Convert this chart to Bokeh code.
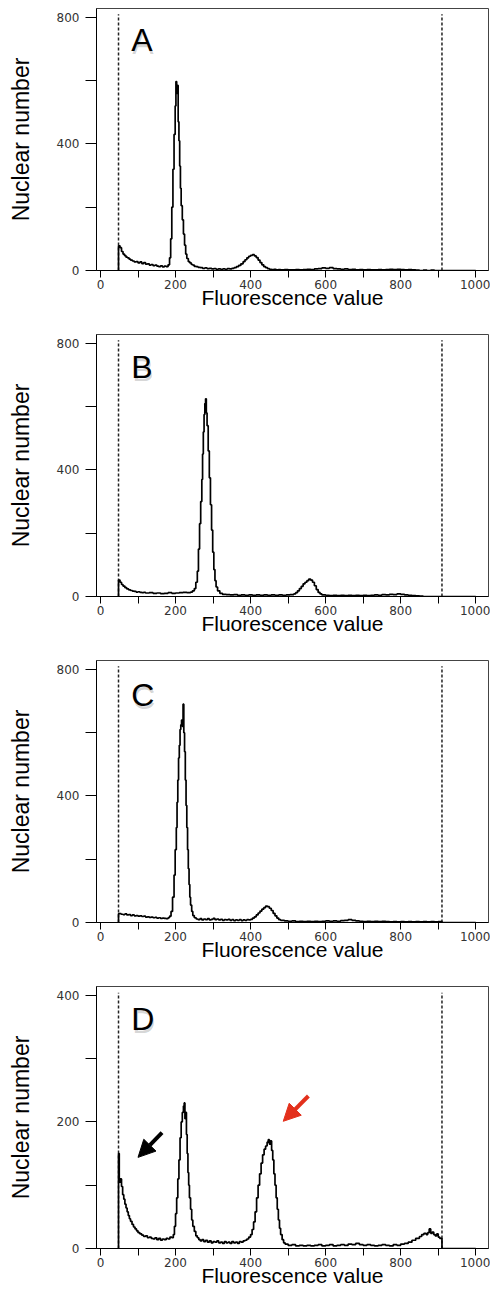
from bokeh.plotting import figure
from bokeh.layouts import column
from bokeh.models import Range1d, FixedTicker, Arrow, NormalHead
from bokeh.core.properties import value
from bokeh.embed import file_html
from bokeh.resources import INLINE

# ---------------- data ----------------
gates = [48, 910]
x_ticks = [0, 100, 200, 300, 400, 500, 600, 700, 800, 900, 1000]
x_tick_labels = ["0", "", "200", "", "400", "", "600", "", "800", "", "1000"]
y_ticks_big = [0, 200, 400, 600, 800]
y_tick_labels_big = ["0", "", "400", "", "800"]
y_ticks_small = [0, 100, 200, 300, 400]
y_tick_labels_small = ["0", "", "200", "", "400"]
panel_letters = ["A", "B", "C", "D"]

A_edges = [48, 52, 56, 60, 64, 68, 72, 76, 80, 85, 90, 95, 100, 105, 110, 115, 120, 125, 130, 135,
           140, 145, 150, 155, 160, 165, 170, 175, 180, 184, 187, 190, 193, 196, 199, 201, 203, 205,
           207, 209, 211, 213, 215, 218, 221, 224, 227, 230, 234, 238, 242, 246, 250, 255, 260, 266,
           272, 278, 284, 290, 296, 302, 308, 314, 320, 326, 332, 338, 344, 350, 356, 362, 368, 374,
           380, 385, 390, 395, 400, 405, 410, 415, 420, 425, 430, 435, 440, 445, 450, 456, 462, 468,
           474, 480, 490, 500, 510, 520, 530, 540, 550, 560, 570, 580, 590, 600, 610, 620, 630, 640,
           650, 660, 670, 680, 690, 700, 710, 720, 730, 740, 750, 760, 770, 780, 790, 800, 810, 820,
           830, 840, 850, 860, 870, 880, 890]
A_counts = [78, 72, 60, 52, 47, 42, 40, 36, 33, 30, 27, 28, 24, 27, 22, 25, 20, 21, 17, 19,
            15, 17, 14, 12, 15, 11, 14, 12, 18, 40, 100, 200, 320, 430, 520, 597, 560, 585,
            470, 410, 330, 260, 205, 160, 115, 80, 52, 38, 28, 24, 19, 17, 13, 12, 10, 9,
            7, 8, 6, 7, 5, 6, 4, 5, 4, 5, 4, 6, 5, 7, 9, 12, 16, 21,
            28, 34, 40, 45, 48, 50, 46, 41, 33, 25, 18, 12, 9, 6, 4, 3, 4, 2,
            3, 2, 3, 2, 2, 3, 2, 3, 4, 3, 5, 6, 8, 7, 9, 6, 5, 4,
            5, 3, 4, 2, 3, 2, 3, 2, 2, 3, 2, 3, 4, 3, 4, 3, 2, 3,
            2, 1, 0, 1, 0, 1, 0]

B_edges = [48, 52, 56, 60, 65, 70, 75, 80, 85, 90, 95, 100, 105, 110, 115, 120, 130, 140, 150, 160,
           170, 180, 190, 200, 210, 220, 230, 240, 245, 250, 254, 258, 261, 264, 267, 270, 272, 274,
           276, 278, 280, 282, 284, 287, 290, 293, 296, 299, 302, 305, 308, 312, 318, 325, 335, 345,
           355, 365, 375, 385, 395, 405, 415, 425, 435, 445, 455, 465, 475, 485, 495, 505, 515, 520,
           525, 530, 535, 540, 545, 550, 555, 560, 565, 570, 575, 580, 585, 590, 600, 610, 620, 630,
           640, 650, 660, 670, 680, 690, 700, 710, 720, 730, 740, 750, 760, 770, 780, 790, 800, 810,
           820, 830, 840, 850, 860]
B_counts = [52, 45, 38, 33, 28, 24, 21, 19, 17, 16, 14, 15, 13, 12, 13, 11, 12, 10, 11, 9,
            10, 12, 10, 11, 12, 13, 12, 14, 18, 25, 45, 80, 150, 230, 300, 370, 450, 520,
            575, 610, 625, 580, 540, 460, 375, 290, 210, 140, 85, 50, 30, 18, 10, 7, 6, 5,
            6, 4, 5, 4, 5, 4, 5, 4, 5, 4, 5, 4, 5, 4, 5, 6, 8, 12,
            18, 25, 32, 40, 45, 50, 55, 52, 45, 34, 22, 13, 8, 5, 4, 3, 4, 3,
            4, 3, 4, 3, 4, 3, 4, 3, 4, 5, 4, 6, 5, 7, 6, 8, 7, 5,
            4, 3, 2, 1, 0]

C_edges = [48, 55, 60, 65, 70, 75, 80, 85, 90, 95, 100, 105, 110, 115, 120, 125, 130, 135, 140, 145,
           150, 155, 160, 165, 170, 175, 180, 184, 188, 192, 196, 199, 202, 204, 206, 208, 210, 212,
           214, 216, 218, 220, 222, 224, 226, 228, 230, 232, 234, 236, 238, 240, 243, 246, 250, 255,
           260, 265, 270, 275, 280, 285, 290, 295, 300, 305, 310, 315, 320, 325, 330, 335, 340, 345,
           350, 355, 360, 365, 370, 375, 380, 385, 390, 395, 400, 405, 410, 415, 420, 425, 430, 435,
           440, 445, 450, 455, 460, 465, 470, 475, 480, 490, 500, 510, 520, 530, 540, 550, 560, 570,
           580, 590, 600, 610, 620, 630, 640, 650, 660, 670, 680, 690, 700, 710, 720, 730, 740, 750,
           760, 770, 780, 790, 800, 810, 820, 830, 840, 850, 860, 870, 880, 890, 900]
C_counts = [28, 26, 25, 27, 24, 25, 22, 24, 21, 22, 20, 21, 19, 20, 17, 18, 16, 17, 15, 16,
            14, 15, 13, 14, 13, 12, 15, 20, 35, 80, 150, 230, 300, 380, 450, 520, 560, 610,
            625, 640, 620, 690, 600, 540, 450, 370, 300, 230, 170, 120, 80, 55, 35, 22, 15, 11,
            9, 12, 8, 11, 9, 12, 8, 10, 13, 9, 11, 8, 10, 7, 9, 8, 10, 7,
            9, 6, 8, 7, 9, 6, 8, 7, 9, 8, 10, 14, 18, 24, 30, 36, 42, 47,
            52, 50, 45, 38, 29, 21, 14, 9, 7, 5, 4, 5, 3, 4, 3, 4, 3, 4,
            3, 4, 5, 4, 5, 4, 6, 7, 9, 7, 5, 4, 3, 4, 3, 4, 3, 4,
            3, 2, 3, 2, 3, 2, 3, 2, 3, 2, 3, 2, 3, 2, 3]

D_edges = [48, 50, 53, 56, 59, 62, 65, 68, 71, 74, 77, 80, 84, 88, 92, 96, 100, 105, 110, 115,
           120, 125, 130, 135, 140, 145, 150, 155, 160, 165, 170, 175, 180, 185, 190, 194, 197, 200,
           203, 206, 209, 212, 215, 218, 221, 223, 225, 227, 229, 231, 233, 235, 237, 240, 243, 246,
           250, 254, 258, 262, 266, 270, 275, 280, 285, 290, 295, 300, 305, 310, 315, 320, 325, 330,
           335, 340, 345, 350, 355, 360, 365, 370, 375, 380, 385, 390, 395, 400, 404, 408, 412, 416,
           420, 424, 428, 432, 436, 440, 444, 447, 450, 453, 456, 459, 462, 465, 468, 471, 474, 477,
           480, 484, 488, 492, 500, 510, 520, 530, 540, 550, 560, 570, 580, 590, 600, 610, 620, 630,
           640, 650, 660, 670, 680, 690, 700, 710, 720, 730, 740, 750, 760, 770, 780, 790, 800, 810,
           820, 830, 840, 850, 856, 862, 868, 872, 876, 880, 884, 888, 892, 896, 900, 904]
D_counts = [150, 105, 110, 98, 85, 78, 70, 64, 58, 52, 47, 43, 38, 34, 31, 28, 25, 23, 21, 19,
            20, 17, 18, 16, 15, 17, 14, 16, 13, 15, 14, 16, 15, 18, 17, 22, 35, 55,
            80, 110, 140, 175, 200, 215, 225, 230, 205, 215, 180, 150, 120, 100, 80, 62, 45, 35,
            27, 20, 17, 14, 12, 14, 11, 13, 10, 12, 9, 11, 10, 12, 9, 10, 8, 11,
            9, 10, 8, 11, 9, 10, 8, 11, 10, 12, 13, 15, 18, 22, 30, 42, 58, 80,
            100, 118, 135, 148, 157, 162, 168, 172, 165, 170, 155, 140, 118, 100, 80, 62, 45, 32,
            22, 14, 9, 7, 5, 6, 4, 5, 4, 5, 4, 5, 6, 4, 5, 6, 4, 5,
            6, 5, 7, 6, 8, 6, 5, 6, 5, 4, 5, 6, 5, 4, 6, 5, 7, 8,
            10, 13, 16, 19, 22, 24, 22, 25, 31, 24, 26, 22, 20, 23, 18, 16]

# arrows in panel D: (x_start, y_start, x_end, y_end)
black_arrow = [164, 183, 100, 144]
red_arrow = [554, 241, 487, 201]

# ---------------- drawing ----------------
X_START, X_END = -10.67, 1034.0
LABEL_FONT = "Liberation Sans"
TICK_FONT = "DejaVu Sans"

panels = [
    dict(letter="A", edges=A_edges, counts=A_counts, ymax=828, gate_top=810, letter_y=672,
         yt=y_ticks_big, ytl=y_tick_labels_big, h=326, bb=56),
    dict(letter="B", edges=B_edges, counts=B_counts, ymax=828, gate_top=810, letter_y=668,
         yt=y_ticks_big, ytl=y_tick_labels_big, h=326, bb=56),
    dict(letter="C", edges=C_edges, counts=C_counts, ymax=828, gate_top=810, letter_y=662,
         yt=y_ticks_big, ytl=y_tick_labels_big, h=326, bb=56),
    dict(letter="D", edges=D_edges, counts=D_counts, ymax=414, gate_top=404, letter_y=334,
         yt=y_ticks_small, ytl=y_tick_labels_small, h=312, bb=42),
]

figs = []
for pan in panels:
    p = figure(width=490, height=pan["h"], x_range=Range1d(X_START, X_END),
               y_range=Range1d(0, pan["ymax"]), output_backend="svg", toolbar_location=None,
               min_border_left=96, min_border_right=2, min_border_top=8,
               min_border_bottom=pan["bb"])
    p.grid.visible = False
    p.outline_line_color = "#444444"
    p.outline_line_width = 1
    p.background_fill_color = "white"
    p.border_fill_color = "white"

    # axes
    p.xaxis.ticker = FixedTicker(ticks=x_ticks)
    p.xaxis.major_label_overrides = {t: l for t, l in zip(x_ticks, x_tick_labels)}
    p.yaxis.ticker = FixedTicker(ticks=pan["yt"])
    p.yaxis.major_label_overrides = {t: l for t, l in zip(pan["yt"], pan["ytl"])}
    for ax in (p.xaxis[0], p.yaxis[0]):
        ax.axis_line_color = "black"
        ax.axis_line_width = 1
        ax.major_tick_line_color = "black"
        ax.major_tick_line_width = 1
        ax.major_tick_in = 0
        ax.minor_tick_line_color = None
        ax.major_label_text_font = TICK_FONT
        ax.major_label_text_font_size = "12px"
        ax.major_label_text_color = "#333333"
        ax.axis_label_text_font = LABEL_FONT
        ax.axis_label_text_font_style = "normal"
        ax.axis_label_text_color = "black"
    p.xaxis.major_tick_out = 7
    p.xaxis.major_label_standoff = 2
    p.xaxis.axis_label = "Fluorescence value"
    p.xaxis.axis_label_text_font_size = "21px"
    p.xaxis.axis_label_standoff = -6
    p.yaxis.major_tick_out = 11
    p.yaxis.major_label_standoff = 6
    p.yaxis.axis_label = "Nuclear number"
    p.yaxis.axis_label_text_font_size = "23px"
    p.yaxis.axis_label_standoff = 20

    # gate lines
    p.segment(x0=gates, y0=[0, 0], x1=gates, y1=[pan["gate_top"]] * 2,
              line_color="#222222", line_width=1.5, line_dash="3 2")

    # histogram step line
    xs = [gates[0]] + pan["edges"] + [gates[1], gates[1], 1000]
    ys = [0] + pan["counts"] + [pan["counts"][-1], 0, 0]
    p.step(xs, ys, mode="after", line_color="black", line_width=1.7)

    # panel letter with soft shadow
    p.text(x=[82], y=[pan["letter_y"]], text=[pan["letter"]], text_font=value(LABEL_FONT),
           text_font_size="32px", text_color="#000000", text_alpha=0.18,
           text_baseline="bottom", text_align="left", x_offset=1, y_offset=3)
    p.text(x=[82], y=[pan["letter_y"]], text=[pan["letter"]], text_font=value(LABEL_FONT),
           text_font_size="32px", text_color="black",
           text_baseline="bottom", text_align="left")
    figs.append(p)

pD = figs[3]
pD.add_layout(Arrow(end=NormalHead(size=17, fill_color="black", line_color="black"),
                    x_start=black_arrow[0], y_start=black_arrow[1],
                    x_end=black_arrow[2], y_end=black_arrow[3],
                    line_color="black", line_width=4))
pD.add_layout(Arrow(end=NormalHead(size=17, fill_color="#E3301C", line_color="#E3301C"),
                    x_start=red_arrow[0], y_start=red_arrow[1],
                    x_end=red_arrow[2], y_end=red_arrow[3],
                    line_color="#E3301C", line_width=4))

layout = column(*figs, spacing=0)
open("out.html", "w").write(file_html(layout, INLINE))
